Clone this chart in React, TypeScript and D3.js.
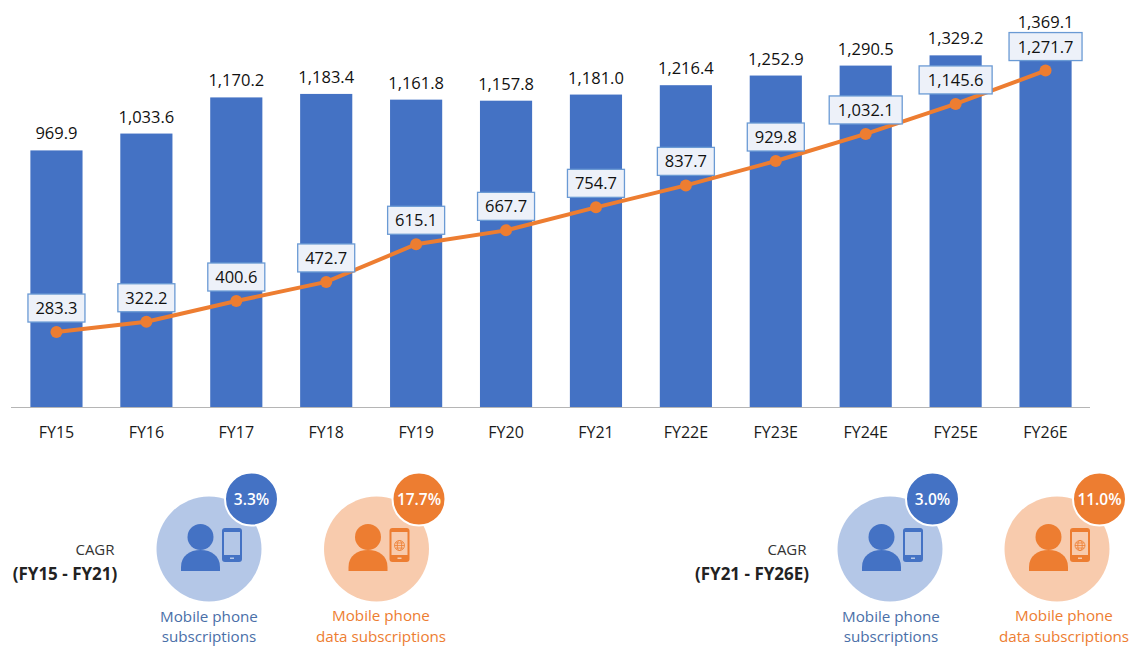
import React from "react";
import * as d3 from "d3";

const categories = ["FY15","FY16","FY17","FY18","FY19","FY20","FY21","FY22E","FY23E","FY24E","FY25E","FY26E"];
const mobileSubs = [969.9,1033.6,1170.2,1183.4,1161.8,1157.8,1181.0,1216.4,1252.9,1290.5,1329.2,1369.1];
const dataSubs = [283.3,322.2,400.6,472.7,615.1,667.7,754.7,837.7,929.8,1032.1,1145.6,1271.7];
const periods = ["(FY15 - FY21)","(FY21 - FY26E)"];
const blueCagr = ["3.3%","3.0%"];
const orangeCagr = ["17.7%","11.0%"];

const FONT = "'Open Sans', 'Noto Sans', sans-serif";
const BLUE = "#4472C4";
const ORANGE = "#ED7D31";
const fmt = d3.format(",.1f");

const x = d3.scaleBand<string>().domain(categories).range([11.5, 1090.5]).paddingInner(0.42).paddingOuter(0.21);
const y = d3.scaleLinear().domain([0, 1369.1]).range([407, 44.8]);
const line = d3.line<number>().x((_, i) => x(categories[i])! + x.bandwidth() / 2).y(d => y(d));

function Badge({ cx, fill, light, value, labels, labelFill, globe }: any) {
  const hx = cx - 8.5, hy = 537;
  return (
    <g>
      <circle cx={cx} cy={549} r={52.5} fill={light} />
      <circle cx={hx} cy={hy} r={13} fill={fill} />
      <path d={`M${hx - 19.5},571 V567 C${hx - 19.5},556 ${hx - 11},550 ${hx},550 C${hx + 11},550 ${hx + 19.5},556 ${hx + 19.5},567 V571 Z`} fill={fill} />
      <rect x={cx + 13} y={528} width={20} height={34} rx={3} fill={fill} />
      <rect x={cx + 15} y={532} width={16} height={23} fill={light} />
      <rect x={cx + 21} y={557.5} width={4} height={1.5} fill={light} />
      {globe && (
        <g fill="none" stroke={fill} strokeWidth={0.8}>
          <circle cx={cx + 23} cy={545.5} r={5} />
          <ellipse cx={cx + 23} cy={545.5} rx={2.2} ry={5} />
          <path d={`M${cx + 18},545.5 H${cx + 28} M${cx + 19},543 H${cx + 27} M${cx + 19},548 H${cx + 27}`} />
        </g>
      )}
      <circle cx={cx + 42.5} cy={499} r={26.5} fill={fill} stroke="#fff" strokeWidth={2} />
      <text x={cx + 42.5} y={505} textAnchor="middle" fontSize={15.5} fontWeight={600} fill="#fff" fontFamily={FONT}>{value}</text>
      {labels.map((t: any, i: number) => (
        <text key={i} x={t.x} y={t.y} textAnchor="middle" fontSize={15.2} fill={labelFill} fontFamily={FONT}>{t.s}</text>
      ))}
    </g>
  );
}

export default function App() {
  return (
    <svg width={1131} height={646} style={{ position: "absolute", left: 0, top: 0, background: "#fff" }} fontFamily={FONT}>
      {categories.map((c, i) => (
        <rect key={c} x={x(c)} y={y(mobileSubs[i])} width={x.bandwidth()} height={y(0) - y(mobileSubs[i])} fill={BLUE} />
      ))}
      <line x1={11} x2={1090} y1={407.5} y2={407.5} stroke="#b5b5b5" strokeWidth={1} />
      {categories.map((c) => (
        <text key={c} x={x(c)! + x.bandwidth() / 2} y={437.5} textAnchor="middle" fontSize={16} fill="#1a1a1a">{c}</text>
      ))}
      {categories.map((c, i) => {
        const boxTop = y(dataSubs[i]) - 38;
        const base = y(mobileSubs[i]) - 11;
        return (
          <text key={c} x={x(c)! + x.bandwidth() / 2} y={Math.min(base, boxTop - 5)} textAnchor="middle" fontSize={16.5} fill="#111">{fmt(mobileSubs[i])}</text>
        );
      })}
      <path d={line(dataSubs)!} fill="none" stroke={ORANGE} strokeWidth={4} strokeLinecap="round" />
      {dataSubs.map((v, i) => (
        <circle key={i} cx={x(categories[i])! + x.bandwidth() / 2} cy={y(v)} r={6} fill={ORANGE} />
      ))}
      {dataSubs.map((v, i) => {
        const cx = x(categories[i])! + x.bandwidth() / 2;
        const s = fmt(v);
        const w = s.length > 5 ? 73 : 57;
        const top = y(v) - 38;
        return (
          <g key={i}>
            <rect x={cx - w / 2} y={top} width={w} height={28} fill="#EDF1F9" stroke="#6A9AD4" strokeWidth={1.3} />
            <text x={cx} y={top + 20} textAnchor="middle" fontSize={16.5} fill="#111">{s}</text>
          </g>
        );
      })}
      <text x={95} y={555} textAnchor="middle" fontSize={15} fill="#333">CAGR</text>
      <text x={65} y={579.5} textAnchor="middle" fontSize={17} fontWeight={700} fill="#222">{periods[0]}</text>
      <text x={787} y={555} textAnchor="middle" fontSize={15} fill="#333">CAGR</text>
      <text x={752} y={579.5} textAnchor="middle" fontSize={17} fontWeight={700} fill="#222">{periods[1]}</text>
      <Badge cx={209} fill={BLUE} light="#B4C7E7" value={blueCagr[0]} labelFill="#4A6FA8"
        labels={[{ s: "Mobile phone", x: 209, y: 622 }, { s: "subscriptions", x: 209, y: 642 }]} />
      <Badge cx={376.5} fill={ORANGE} light="#F8CBAD" value={orangeCagr[0]} labelFill={ORANGE} globe
        labels={[{ s: "Mobile phone", x: 381, y: 621 }, { s: "data subscriptions", x: 381, y: 642 }]} />
      <Badge cx={890} fill={BLUE} light="#B4C7E7" value={blueCagr[1]} labelFill="#4A6FA8"
        labels={[{ s: "Mobile phone", x: 891, y: 622 }, { s: "subscriptions", x: 891, y: 642 }]} />
      <Badge cx={1057} fill={ORANGE} light="#F8CBAD" value={orangeCagr[1]} labelFill={ORANGE} globe
        labels={[{ s: "Mobile phone", x: 1064, y: 621 }, { s: "data subscriptions", x: 1064, y: 642 }]} />
    </svg>
  );
}
